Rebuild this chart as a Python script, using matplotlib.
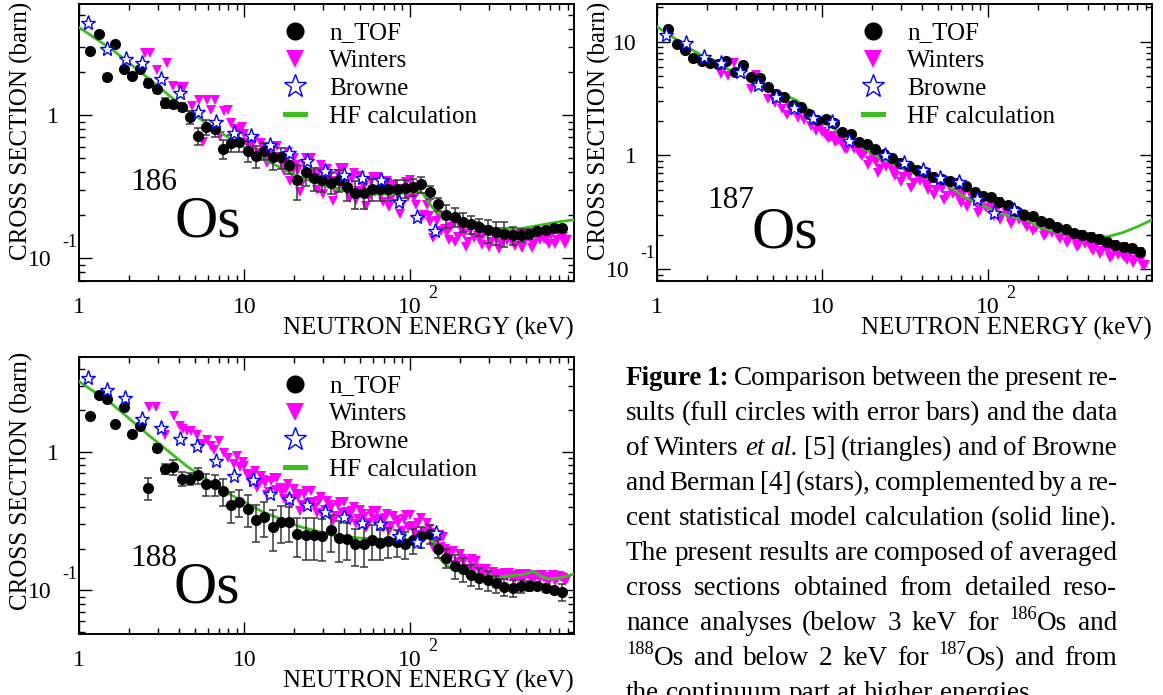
import matplotlib
matplotlib.use('Agg')
import matplotlib.pyplot as plt
import numpy as np
from matplotlib.lines import Line2D
from matplotlib.ticker import LogLocator, NullFormatter
from matplotlib.transforms import blended_transform_factory, offset_copy

plt.rcParams['font.family'] = ['Liberation Serif', 'DejaVu Serif']

W_PX, H_PX = 1163, 695
MAGENTA, BLUE, GREEN, EBAR = '#ff00ff', '#0000ff', '#3cbe1e', '#383838'

# ---- n_TOF (energy grid is common to the three isotopes), keV / barn
E_NTOF = [1.17, 1.32, 1.48, 1.66, 1.86, 2.09, 2.34, 2.63, 2.95, 3.31,
          3.72, 4.17, 4.68, 5.25, 5.89, 6.61, 7.41, 8.32, 9.33, 10.5,
          11.7, 13.2, 14.8, 16.6, 18.6, 20.9, 23.4, 26.3, 29.5, 33.1,
          37.2, 41.7, 46.8, 52.5, 58.9, 66.1, 74.1, 83.2, 93.3, 105,
          117, 132, 148, 166, 186, 209, 234, 263, 295, 331,
          372, 417, 468, 525, 589, 661, 741, 832]
NTOF_186 = [2.81, 3.66, 1.83, 3.15, 2.09, 1.87, 2.09, 1.68, 1.51, 1.21,
            1.19, 1.14, 0.964, 0.714, 0.82, 0.795, 0.579, 0.641, 0.651, 0.564,
            0.518, 0.564, 0.507, 0.507, 0.448, 0.352, 0.398, 0.361, 0.352, 0.337,
            0.352, 0.316, 0.284, 0.284, 0.305, 0.305, 0.305, 0.305, 0.308, 0.316,
            0.328, 0.289, 0.239, 0.200, 0.195, 0.180, 0.173, 0.166, 0.157, 0.152,
            0.149, 0.145, 0.145, 0.148, 0.154, 0.158, 0.162, 0.162]
ERR_186 = [0.02, 0.02, 0.06, 0.03, 0.03, 0.05, 0.04, 0.06, 0.06, 0.08,
           0.06, 0.07, 0.10, 0.13, 0.12, 0.12, 0.15, 0.14, 0.15, 0.16,
           0.18, 0.14, 0.18, 0.17, 0.14, 0.27, 0.20, 0.18, 0.18, 0.17,
           0.18, 0.20, 0.22, 0.22, 0.18, 0.18, 0.17, 0.16, 0.15, 0.14,
           0.13, 0.10, 0.10, 0.18, 0.15, 0.15, 0.14, 0.14, 0.18, 0.18,
           0.20, 0.15, 0.10, 0.08, 0.06, 0.05, 0.05, 0.05]
NTOF_187 = [12.8, 9.48, 8.45, 7.23, 6.76, 6.45, 6.3, 6.7, 5.37, 6.25,
            4.87, 4.76, 3.97, 3.49, 3.25, 2.76, 2.64, 2.30, 2.07, 2.11,
            1.94, 1.61, 1.53, 1.31, 1.27, 1.13, 1.04, 0.955, 0.863, 0.806,
            0.753, 0.713, 0.650, 0.624, 0.594, 0.575, 0.537, 0.476, 0.439, 0.433,
            0.392, 0.364, 0.324, 0.303, 0.293, 0.265, 0.256, 0.234, 0.224, 0.209,
            0.202, 0.193, 0.184, 0.175, 0.164, 0.158, 0.153, 0.143]
ERR_187 = [0.03, 0.03, 0.03, 0.03, 0.03, 0.03, 0.03, 0.03, 0.03, 0.03,
           0.04, 0.04, 0.04, 0.04, 0.04, 0.04, 0.04, 0.04, 0.04, 0.04,
           0.05, 0.05, 0.05, 0.05, 0.05, 0.05, 0.05, 0.05, 0.05, 0.05,
           0.06, 0.06, 0.06, 0.06, 0.06, 0.06, 0.06, 0.06, 0.06, 0.06,
           0.07, 0.07, 0.07, 0.07, 0.07, 0.07, 0.07, 0.07, 0.07, 0.07,
           0.08, 0.08, 0.08, 0.08, 0.08, 0.08, 0.08, 0.08]
NTOF_188 = [1.82, 2.57, 2.43, 1.60, 2.12, 1.34, 1.53, 0.549, 1.07, 0.757,
            0.78, 0.641, 0.641, 0.677, 0.583, 0.583, 0.523, 0.411, 0.435, 0.389,
            0.320, 0.339, 0.287, 0.312, 0.312, 0.254, 0.249, 0.249, 0.245, 0.271,
            0.239, 0.236, 0.215, 0.217, 0.230, 0.220, 0.227, 0.223, 0.217, 0.230,
            0.245, 0.257, 0.20, 0.172, 0.151, 0.143, 0.130, 0.123, 0.118, 0.112,
            0.106, 0.104, 0.107, 0.108, 0.107, 0.104, 0.101, 0.097]
ERR_188 = [0.03, 0.03, 0.03, 0.03, 0.03, 0.04, 0.04, 0.18, 0.07, 0.08,
           0.12, 0.12, 0.10, 0.14, 0.18, 0.17, 0.22, 0.25, 0.22, 0.26,
           0.30, 0.28, 0.33, 0.30, 0.28, 0.32, 0.34, 0.33, 0.33, 0.30,
           0.33, 0.30, 0.30, 0.32, 0.28, 0.25, 0.24, 0.22, 0.22, 0.20,
           0.18, 0.16, 0.15, 0.16, 0.20, 0.20, 0.18, 0.17, 0.16, 0.14,
           0.14, 0.14, 0.10, 0.08, 0.06, 0.06, 0.05, 0.14]

# ---- Winters et al.: sparse points below 10 keV, then a dense band read as
#      two interleaved sets of points
W_LOW_E_186 = [2.5, 2.7, 2.95, 3.4, 3.7, 4.1, 4.3, 4.8, 5.3, 5.6,
               5.9, 6.3, 6.6, 7.1, 7.5, 7.9, 8.3, 8.8, 9.2, 9.6]
W_LOW_186 = [2.7, 2.7, 2.05, 2.3, 1.6, 1.56, 1.56, 1.16, 1.27, 0.65,
             1.27, 1.08, 1.27, 0.71, 1.07, 1.08, 0.875, 0.80, 0.78, 0.83]
W_LOW_E_187 = [2.45, 2.69, 2.9, 3.7, 3.95, 4.3, 4.7, 5.16, 5.4, 5.66,
               6.07, 6.3, 6.5, 7.12, 7.73, 8.0, 8.56, 9.17, 9.7]
W_LOW_187 = [5.15, 4.98, 6.53, 3.85, 5.05, 3.9, 3.11, 2.9, 3.25, 2.54,
             2.29, 2.7, 2.45, 2.14, 2.07, 2.25, 1.81, 1.64, 1.75]
W_LOW_E_188 = [2.66, 2.91, 3.3, 3.76, 4.1, 4.27, 4.52, 4.74, 5.2, 5.5,
               5.96, 6.3, 6.53, 7.0, 7.5, 8.0, 8.6, 9.0, 9.4, 9.8]
W_LOW_188 = [2.12, 2.12, 1.33, 1.81, 1.55, 1.47, 1.42, 1.41, 1.33, 1.15,
             1.23, 1.1, 1.03, 1.2, 0.99, 0.9, 0.82, 0.93, 0.78, 0.85]

W_E_BAND = [10.0, 10.6, 11.2, 11.9, 12.6, 13.3, 14.1, 15.0, 15.8, 16.8,
            17.8, 18.8, 20.0, 21.1, 22.4, 23.7, 25.1, 26.6, 28.2, 29.9,
            31.6, 33.5, 35.5, 37.6, 39.8, 42.2, 44.7, 47.3, 50.1, 53.1,
            56.2, 59.6, 63.1, 66.8, 70.8, 75.0, 79.4, 84.1, 89.1, 94.4,
            100, 106, 112, 119, 126, 133, 141, 150, 158, 168,
            178, 188, 200, 211, 224, 237, 251, 266, 282, 299,
            316, 335, 355, 376, 398, 422, 447, 473, 501, 531,
            562, 596, 631, 668, 708, 750, 794, 841, 891]
W_BAND_186 = [.739, .596, .638, .499, .634, .551, .484, .606, .608, .454,
              .496, .349, .50, .413, .338, .50, .505, .347, .403, .283,
              .421, .349, .291, .425, .428, .303, .356, .257, .378, .317,
              .270, .372, .371, .277, .313, .23, .326, .278, .234, .343,
              .352, .264, .297, .194, .236, .179, .147, .196, .196, .150,
              .166, .129, .167, .148, .131, .166, .167, .135, .147, .12,
              .151, .137, .125, .152, .153, .130, .141, .119, .147, .136,
              .126, .151, .153, .134, .145, .126, .151, .142, .134]
W_BAND_187 = [1.61, 1.46, 1.46, 1.31, 1.36, 1.26, 1.15, 1.23, 1.19, 1.04,
              1.05, .83, 1.00, .875, .763, .945, .933, .72, .78, .59,
              .767, .657, .572, .722, .716, .551, .598, .454, .591, .51,
              .444, .566, .568, .425, .463, .352, .445, .386, .334, .415,
              .403, .321, .339, .272, .33, .295, .264, .311, .306, .251,
              .264, .219, .257, .23, .206, .239, .237, .196, .202, .17,
              .20, .181, .163, .19, .187, .155, .164, .136, .161, .145,
              .132, .154, .153, .128, .135, .113, .133, .122, .11]
W_BAND_188 = [.788, .643, .683, .548, .675, .592, .516, .645, .647, .502,
              .541, .418, .538, .471, .411, .52, .52, .402, .439, .347,
              .445, .391, .344, .434, .432, .344, .374, .30, .382, .34,
              .304, .373, .374, .307, .334, .269, .345, .306, .27, .348,
              .353, .275, .307, .239, .307, .261, .214, .251, .241, .184,
              .189, .152, .184, .162, .143, .167, .163, .135, .14, .122,
              .136, .129, .122, .134, .134, .124, .129, .119, .131, .126,
              .121, .13, .129, .12, .125, .117, .127, .123, .12]

W_E_BAND2 = [10.3, 10.9, 11.5, 12.2, 12.9, 13.7, 14.5, 15.4, 16.3, 17.3,
             18.3, 19.4, 20.5, 21.7, 23.0, 24.3, 25.8, 27.3, 28.9, 30.6,
             32.5, 34.4, 36.5, 38.6, 40.9, 43.3, 45.9, 48.7, 51.6, 54.6,
             57.9, 61.3, 64.9, 68.8, 72.9, 77.2, 81.8, 86.6, 91.8, 97.2,
             103, 109, 116, 122, 130, 137, 145, 154, 163, 173,
             183, 194, 205, 218, 231, 244, 259, 274, 290, 307,
             325, 345, 365, 387, 410, 434, 460, 487, 516, 547,
             579, 613, 649, 688, 729, 772, 818, 866]
W_BAND2_186 = [.642, .548, .684, .545, .591, .46, .582, .501, .51, .407,
               .548, .397, .448, .29, .453, .377, .388, .302, .451, .325,
               .377, .25, .385, .32, .332, .264, .397, .293, .341, .232,
               .345, .291, .302, .246, .345, .26, .296, .205, .306, .268,
               .288, .236, .327, .201, .199, .138, .181, .156, .16, .135,
               .179, .142, .156, .12, .157, .139, .143, .124, .157, .13,
               .142, .116, .144, .132, .135, .121, .149, .128, .14, .118,
               .144, .134, .1375, .126, .152, .134, .144, .125]
W_BAND2_187 = [1.533, 1.417, 1.493, 1.346, 1.325, 1.15, 1.243, 1.139, 1.106, .988,
               1.10, .895, .928, .70, .915, .787, .792, .655, .841, .653,
               .709, .52, .695, .595, .604, .499, .649, .502, .546, .405,
               .541, .46, .469, .385, .50, .387, .413, .31, .402, .347,
               .345, .295, .362, .294, .311, .25, .304, .269, .27, .234,
               .279, .233, .244, .198, .232, .21, .211, .185, .212, .181,
               .191, .157, .185, .167, .166, .145, .173, .145, .153, .125,
               .15, .135, .136, .12, .142, .121, .127, .107]
W_BAND2_188 = [.693, .597, .726, .593, .632, .49, .619, .535, .545, .457,
               .585, .46, .50, .375, .499, .43, .437, .364, .473, .379,
               .413, .315, .412, .363, .369, .316, .399, .327, .357, .28,
               .355, .32, .326, .284, .357, .293, .321, .248, .326, .286,
               .294, .25, .331, .262, .278, .205, .243, .204, .199, .165,
               .192, .16, .169, .135, .162, .144, .142, .126, .143, .126,
               .131, .117, .131, .124, .126, .12, .132, .123, .128, .117,
               .13, .121, .122, .116, .128, .121, .125, .116]

# ---- Browne and Berman
B_E_186 = [1.14, 1.48, 1.91, 2.41, 3.13, 4.06, 5.26, 6.71, 8.61, 11.0,
           14.2, 18.5, 23.9, 30.8, 39.8, 51.0, 66.4, 85.7, 110, 142]
B_186 = [4.36, 2.87, 2.45, 2.29, 1.77, 1.42, 1.05, 0.898, 0.753, 0.714,
         0.617, 0.546, 0.475, 0.41, 0.381, 0.361, 0.352, 0.247, 0.193, 0.154]
B_E_187 = [1.13, 1.50, 1.91, 2.44, 3.16, 4.09, 5.21, 6.76, 8.74, 11.4,
           14.5, 24.0, 31.3, 40.4, 51.4, 66.5, 85.7, 109, 143]
B_187 = [11.4, 9.8, 7.38, 6.45, 5.45, 4.16, 3.29, 2.60, 2.12, 1.98,
         1.35, 1.0, 0.86, 0.745, 0.634, 0.59, 0.411, 0.314, 0.331]
B_E_188 = [1.14, 1.48, 1.89, 2.41, 3.13, 4.06, 5.2, 6.71, 8.69, 11.3,
           14.2, 18.5, 23.9, 30.8, 39.8, 51.5, 66, 85.3, 110, 143]
B_188 = [3.43, 2.82, 2.46, 1.74, 1.49, 1.24, 1.10, 0.857, 0.667, 0.624,
         0.50, 0.455, 0.411, 0.37, 0.338, 0.307, 0.303, 0.248, 0.224, 0.26]

# ---- Hauser-Feshbach calculation
HF_E_186 = [1, 1.6, 2.68, 4.5, 7.56, 12.7, 21.3, 35.8, 60, 78, 101, 115,
            120, 130, 141, 155, 170, 220, 285, 370, 478, 620, 800, 980]
HF_186 = [4.09, 2.84, 1.77, 1.08, 0.725, 0.499, 0.371, 0.303, 0.280, 0.281,
          0.287, 0.293, 0.283, 0.245, 0.217, 0.200, 0.190, 0.174, 0.165,
          0.159, 0.162, 0.171, 0.180, 0.186]
HF_E_187 = [1, 1.63, 2.74, 4.59, 6.93, 8.2, 10.0, 11.5, 12.9, 16.7, 21.6,
            27.9, 36.2, 46.8, 56.1, 70.8, 91.6, 119, 153, 180, 199, 257,
            333, 431, 530, 651, 801, 980]
HF_187 = [13.5, 8.45, 5.64, 3.97, 3.07, 2.55, 1.95, 1.75, 1.57, 1.22, 0.977,
          0.826, 0.707, 0.605, 0.560, 0.437, 0.367, 0.310, 0.281, 0.265,
          0.237, 0.214, 0.200, 0.194, 0.194, 0.210, 0.237, 0.272]
HF_E_188 = [1, 1.6, 2.68, 4.5, 7.56, 12.7, 21.3, 35.8, 60, 101, 125, 131,
            138, 150, 165, 188, 232, 285, 370, 478, 560, 621, 689, 804, 980]
HF_188 = [3.24, 2.20, 1.30, 0.787, 0.520, 0.372, 0.290, 0.246, 0.235, 0.232,
          0.238, 0.240, 0.225, 0.172, 0.152, 0.140, 0.130, 0.127, 0.126,
          0.130, 0.137, 0.126, 0.121, 0.123, 0.131]

X_TICKS = [1, 10, 100]
X_TICK_LABELS = [('1', ''), ('10', ''), ('10', '2')]
Y_TICKS_186 = [1, 0.1]
Y_TICKS_187 = [10, 1, 0.1]
Y_TICK_LABELS_186 = [('1', ''), ('10', '-1')]
Y_TICK_LABELS_187 = [('10', ''), ('1', ''), ('10', '-1')]
LEGEND_LABELS = ['n_TOF', 'Winters', 'Browne', 'HF calculation']

CAPTION = [
    "*Figure *1: Comparison between the present re-",
    "sults (full circles with error bars) and the data",
    "of Winters _et _al. [5] (triangles) and of Browne",
    "and Berman [4] (stars), complemented by a re-",
    "cent statistical model calculation (solid line).",
    "The present results are composed of averaged",
    "cross sections obtained from detailed reso-",
    "nance analyses (below 3 keV for ^186Os and",
    "^188Os and below 2 keV for ^187Os) and from",
    "the continuum part at higher energies.",
]


def px_rect(l, t, r, b):
    return [l / W_PX, 1 - b / H_PX, (r - l) / W_PX, (b - t) / H_PX]


def put(ax, trans, x, y, dx, dy, s, fs, ha):
    tr = offset_copy(trans, fig=ax.figure, x=dx, y=dy, units='dots')
    ax.text(x, y, s, transform=tr, fontsize=fs, ha=ha, va='baseline',
            clip_on=False)


def style_axes(ax, ylim, yticks, ylabels, ytitle_top):
    ax.set_xscale('log')
    ax.set_yscale('log')
    ax.set_xlim(1, 980)
    ax.set_ylim(*ylim)
    for a in (ax.xaxis, ax.yaxis):
        a.set_major_locator(LogLocator(base=10))
        a.set_minor_locator(LogLocator(base=10, subs=np.arange(2, 10)))
        a.set_minor_formatter(NullFormatter())
    ax.tick_params(which='both', direction='in', top=True, right=True,
                   labelbottom=False, labelleft=False, color='black', width=1.0)
    ax.tick_params(which='major', length=9)
    ax.tick_params(which='minor', length=4.5)
    for sp in ax.spines.values():
        sp.set_linewidth(1.4)

    tx = blended_transform_factory(ax.transData, ax.transAxes)
    for v, (base, exp) in zip(X_TICKS, X_TICK_LABELS):
        put(ax, tx, v, 0, 0, -32, base, 17, 'center')
        if exp:
            put(ax, tx, v, 0, 18, -17, exp, 13, 'left')
    ty = blended_transform_factory(ax.transAxes, ax.transData)
    for v, (base, exp) in zip(yticks, ylabels):
        if exp:
            put(ax, ty, 0, v, -27, -8, base, 17, 'right')
            put(ax, ty, 0, v, -17, 11, exp, 13, 'left')
        else:
            put(ax, ty, 0, v, -20, -8, base, 17, 'right')

    ax.text(1.0, -0.195, 'NEUTRON ENERGY (keV)', transform=ax.transAxes,
            ha='right', va='baseline', fontsize=18)
    ax.text(-0.103, ytitle_top, 'CROSS SECTION (barn)', transform=ax.transAxes,
            rotation=90, rotation_mode='anchor', ha='right', va='baseline',
            fontsize=18)


def draw_panel(ax, ntof, err, w_sets, b_e, b, hf_e, hf):
    for w_e, w in w_sets:
        ax.plot(w_e, w, ls='none', marker='v', ms=7.8, color=MAGENTA,
                markeredgewidth=0, zorder=2)
    ax.plot(hf_e, hf, color=GREEN, lw=2.0, zorder=3)
    ntof = np.array(ntof)
    ax.errorbar(E_NTOF, ntof, yerr=ntof * np.array(err), fmt='none',
                ecolor=EBAR, elinewidth=1.1, capsize=3, capthick=1.1, zorder=4)
    ax.plot(E_NTOF, ntof, ls='none', marker='o', ms=7, color='black', zorder=5)
    ax.plot(b_e, b, ls='none', marker='*', ms=11, markerfacecolor='white',
            markeredgecolor=BLUE, markeredgewidth=1.0, zorder=6)

    handles = [
        Line2D([], [], ls='none', marker='o', ms=12, color='black'),
        Line2D([], [], ls='none', marker='v', ms=13, color=MAGENTA, markeredgewidth=0),
        Line2D([], [], ls='none', marker='*', ms=17, markerfacecolor='white',
               markeredgecolor=BLUE, markeredgewidth=1.0),
        Line2D([], [], color=GREEN, lw=3.6),
    ]
    ax.legend(handles, LEGEND_LABELS, loc='upper left', bbox_to_anchor=(0.416, 0.935),
              frameon=False, fontsize=18, handlelength=0.8, handletextpad=0.96,
              labelspacing=0.21, borderaxespad=0, borderpad=0)


def draw_caption(fig, lines, x0, x1, base0, pitch, fs):
    r = fig.canvas.get_renderer()
    sup_fs = fs * 0.68
    rise = fs * 0.42 * fig.dpi / 72
    space = fs * 0.25 * fig.dpi / 72
    for i, line in enumerate(lines):
        words = []
        for w in line.split(' '):
            if w.startswith('*'):
                segs = [(w[1:], dict(weight='bold'), 0)]
            elif w.startswith('_'):
                segs = [(w[1:], dict(style='italic'), 0)]
            elif w.startswith('^'):
                j = 1
                while w[j].isdigit():
                    j += 1
                segs = [(w[1:j], dict(fontsize=sup_fs), rise), (w[j:], {}, 0)]
            else:
                segs = [(w, {}, 0)]
            objs = []
            for s, kw, dy in segs:
                kw2 = dict(fontsize=fs)
                kw2.update(kw)
                t = fig.text(0, 0, s, ha='left', va='baseline', **kw2)
                objs.append((t, t.get_window_extent(renderer=r).width, dy))
            words.append(objs)
        widths = [sum(o[1] for o in wd) for wd in words]
        if i == len(lines) - 1:
            gap = space
        else:
            gap = (x1 - x0 - sum(widths)) / (len(words) - 1)
        x = x0
        yb = base0 + i * pitch
        for wd, ww in zip(words, widths):
            xx = x
            for t, w, dy in wd:
                t.set_position((xx / W_PX, 1 - (yb - dy) / H_PX))
                xx += w
            x += ww + gap


fig = plt.figure(figsize=(W_PX / 100, H_PX / 100), dpi=100)
fig.patch.set_facecolor('white')

ax1 = fig.add_axes(px_rect(79, 4, 574, 281))
ax2 = fig.add_axes(px_rect(657, 4, 1152, 281))
ax3 = fig.add_axes(px_rect(79, 357, 574, 634))

style_axes(ax1, (0.0695, 5.95), Y_TICKS_186, Y_TICK_LABELS_186, 1.007)
style_axes(ax2, (0.079, 21.4), Y_TICKS_187, Y_TICK_LABELS_187, 1.007)
style_axes(ax3, (0.0483, 4.86), Y_TICKS_186, Y_TICK_LABELS_186, 1.02)

draw_panel(ax1, NTOF_186, ERR_186,
           [(W_LOW_E_186, W_LOW_186), (W_E_BAND, W_BAND_186), (W_E_BAND2, W_BAND2_186)],
           B_E_186, B_186, HF_E_186, HF_186)
draw_panel(ax2, NTOF_187, ERR_187,
           [(W_LOW_E_187, W_LOW_187), (W_E_BAND, W_BAND_187), (W_E_BAND2, W_BAND2_187)],
           B_E_187, B_187, HF_E_187, HF_187)
draw_panel(ax3, NTOF_188, ERR_188,
           [(W_LOW_E_188, W_LOW_188), (W_E_BAND, W_BAND_188), (W_E_BAND2, W_BAND2_188)],
           B_E_188, B_188, HF_E_188, HF_188)

# isotope tags: (axes, mass, mass x, mass baseline y, Os x, Os baseline y) in axes fraction
for ax, mass, mx, my, ox, oy in [(ax1, '186', 0.104, 0.3285, 0.192, 0.159),
                                 (ax2, '187', 0.102, 0.2635, 0.19, 0.1227),
                                 (ax3, '188', 0.104, 0.2466, 0.19, 0.1155)]:
    ax.text(mx, my, mass, transform=ax.transAxes, fontsize=22.5, ha='left', va='baseline')
    ax.text(ox, oy, 'Os', transform=ax.transAxes, fontsize=43, ha='left', va='baseline')

draw_caption(fig, CAPTION, 626, 1117, 385, 35, 19.5)

fig.savefig('out.png', dpi=100, facecolor='white')
